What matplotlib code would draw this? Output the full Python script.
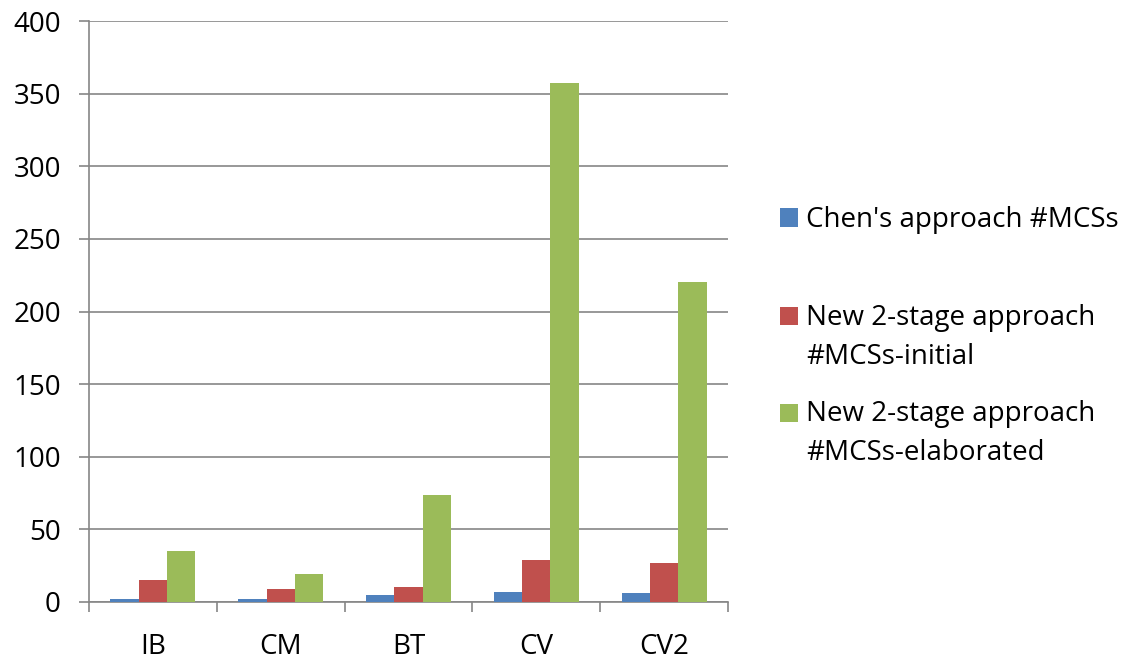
import numpy as np
import matplotlib
matplotlib.use("Agg")
import matplotlib.pyplot as plt
from matplotlib.patches import Rectangle

categories = ["IB", "CM", "BT", "CV", "CV2"]
chen_mcss = [2, 2, 5, 7, 6]
new_initial = [15, 9, 10, 29, 27]
new_elaborated = [35, 19, 74, 357, 220]
series_labels = [["Chen's approach #MCSs"],
                 ["New 2-stage approach", "#MCSs-initial"],
                 ["New 2-stage approach", "#MCSs-elaborated"]]
colors = ["#4F81BD", "#C0504D", "#9BBB59"]
yticks = [0, 50, 100, 150, 200, 250, 300, 350, 400]

plt.rcParams["font.family"] = ["Open Sans", "DejaVu Sans"]
grid_color = "#868686"
W, H = 1131, 661

fig = plt.figure(figsize=(W / 100, H / 100), dpi=100)
ax = fig.add_axes([89 / W, 1 - 602 / H, (728 - 89) / W, (602 - 21) / H])

x = np.arange(len(categories))
w = 0.222
for i, (vals, c) in enumerate(zip([chen_mcss, new_initial, new_elaborated], colors)):
    ax.bar(x + (i - 1) * w, vals, width=w, color=c, zorder=3)

ax.set_xlim(-0.5, len(categories) - 0.5)
ax.set_ylim(0, 400)
ax.set_yticks(yticks)
ax.set_yticklabels([str(v) for v in yticks], fontsize=20)
ax.yaxis.grid(True, color=grid_color, linewidth=1.2, zorder=0)
ax.set_xticks(x)
ax.set_xticklabels(categories, fontsize=20)
ax.set_xticks(np.arange(len(categories) + 1) - 0.5, minor=True)
ax.tick_params(axis="x", which="major", length=0, pad=22)
ax.tick_params(axis="x", which="minor", length=7.2, width=1.2, color=grid_color)
ax.tick_params(axis="y", length=7.2, width=1.2, color=grid_color, pad=13)
for side in ["top", "right"]:
    ax.spines[side].set_visible(False)
for side in ["left", "bottom"]:
    ax.spines[side].set_color(grid_color)
    ax.spines[side].set_linewidth(1.2)

# Legend drawn at the right of the plot: a colour square plus one or two text lines
baselines = [[226.5], [324.5, 363.5], [421.5, 460.5]]
for c, lines, bls in zip(colors, series_labels, baselines):
    first = bls[0]
    fig.patches.append(Rectangle((780 / W, 1 - first / H), 18 / W, 18 / H,
                                 transform=fig.transFigure, facecolor=c,
                                 edgecolor="none"))
    for text, bl in zip(lines, bls):
        fig.text(806 / W, 1 - bl / H, text, fontsize=20, va="baseline",
                 ha="left", color="black")

fig.savefig("out.png", dpi=100)
